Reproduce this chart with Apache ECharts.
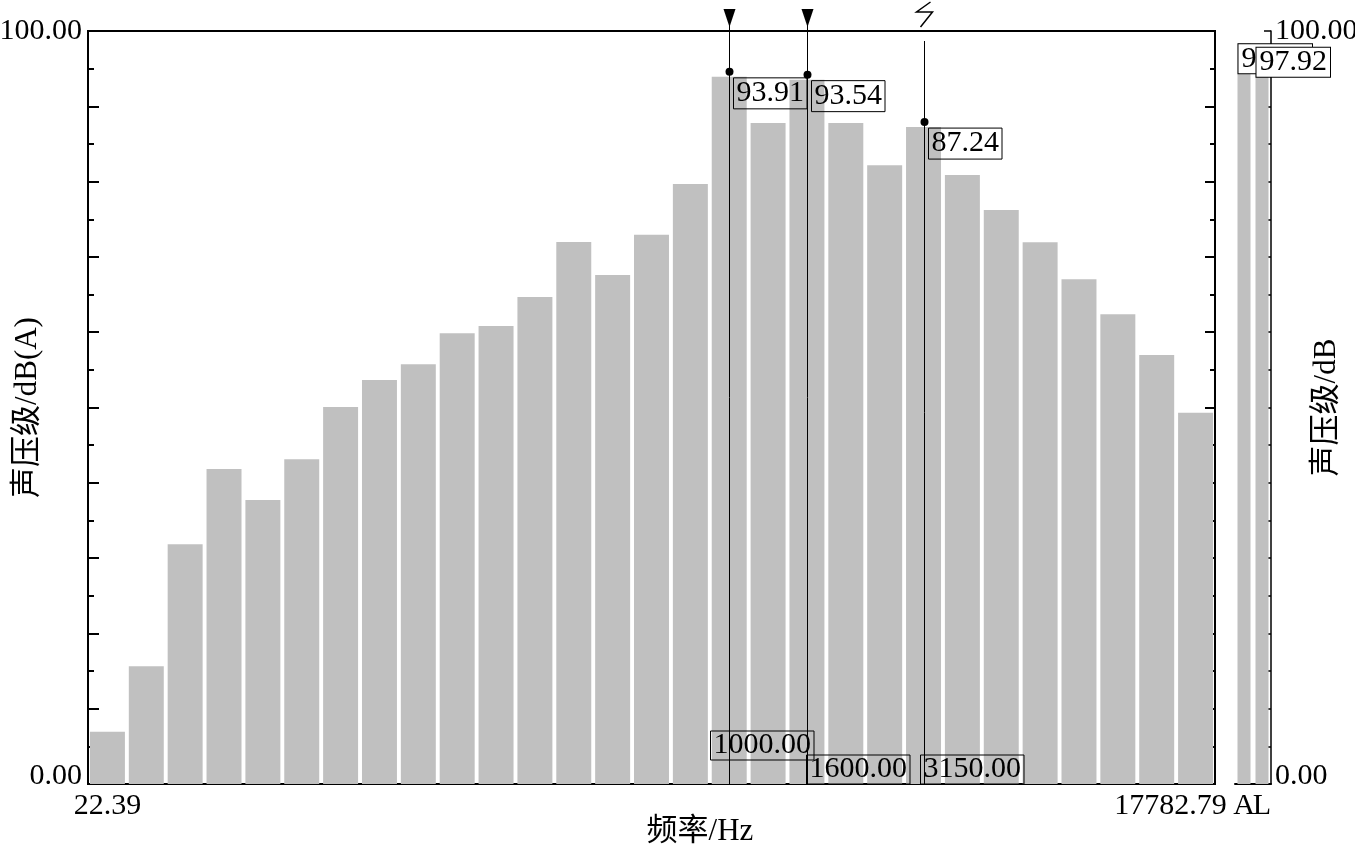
<!DOCTYPE html>
<html>
<head>
<meta charset="utf-8">
<script src="https://cdn.jsdelivr.net/npm/echarts@6/dist/echarts.min.js"></script>
<style>
  html, body { margin: 0; padding: 0; background: #fff; }
  #chart { width: 1355px; height: 850px; }
</style>
</head>
<body>
<div id="chart"></div>
<script>
// 1/3 octave bands (Hz) and A-weighted levels
var bands = ["25", "31.5", "40", "50", "63", "80", "100", "125", "160", "200", "250", "315", "400", "500", "630",
  "800", "1000", "1250", "1600", "2000", "2500", "3150", "4000", "5000", "6300", "8000", "10000", "12500", "16000"];
var levels = [6.95, 15.63, 31.83, 41.83, 37.72, 43.12, 50.07, 53.65, 55.74, 59.85, 60.82, 64.67, 71.98, 67.60, 72.95,
  79.68, 93.91, 87.78, 93.54, 87.78, 82.16, 87.24, 80.88, 76.23, 71.94, 67.02, 62.38, 56.97, 49.31];
// band edges shown under the first and last bar
var edgeLabels = ["22.39", "17782.79"];
// overall levels
var totalNames = ["A", "L"];
var totalLevels = [98.37, 97.92];
// cursors
var cursorBands = ["1000", "1600", "3150"];
var cursorFreqText = ["1000.00", "1600.00", "3150.00"];
var cursorKind = ["arrow", "arrow", "break"];

var SERIF = "'Liberation Serif', 'Noto Sans CJK SC', serif";
var FS = 30;
var font = FS + "px " + SERIF;
// bottom label placement per cursor (dx from line, stacked row)
var freqBoxDx = [-19, -1, -4];
var freqBoxRow = [1, 0, 0];

var chart = echarts.init(document.getElementById("chart"));

var cursorData = cursorBands.map(function (b, i) {
  var idx = bands.indexOf(b);
  return [idx, levels[idx], i];
});

function renderCursor(params, api) {
  var idx = api.value(0), val = api.value(1), ci = api.value(2);
  var p = api.coord([idx, val]);
  var top = api.coord([idx, 100])[1];
  var bot = api.coord([idx, 0])[1];
  var x = Math.round(p[0]) + 0.5;
  var kids = [];
  var arrow = cursorKind[ci] === "arrow";
  kids.push({
    type: "line",
    shape: { x1: x, y1: arrow ? top - 20 : top + 10, x2: x, y2: bot },
    style: { stroke: "#000", lineWidth: 1 }
  });
  if (arrow) {
    kids.push({
      type: "polygon",
      shape: { points: [[x - 6, top - 22], [x + 6, top - 22], [x, top - 4]] },
      style: { fill: "#000" }
    });
  } else {
    kids.push({
      type: "polyline",
      shape: { points: [[x + 6, top - 29], [x - 8, top - 19], [x + 8, top - 19], [x - 4, top - 4]] },
      style: { stroke: "#000", lineWidth: 1.5, fill: null }
    });
  }
  kids.push({
    type: "circle",
    shape: { cx: x, cy: p[1] - 5, r: 4 },
    style: { fill: "#000" }
  });
  kids.push({
    type: "text",
    x: x + 4,
    y: p[1] + 1,
    style: {
      text: val.toFixed(2), font: font, fill: "#000", align: "left", verticalAlign: "top",
      lineHeight: 29, padding: [1, 3, 1, 3], borderColor: "#000", borderWidth: 1
    }
  });
  kids.push({
    type: "text",
    x: x + freqBoxDx[ci],
    y: bot - 29 - freqBoxRow[ci] * 24,
    style: {
      text: cursorFreqText[ci], font: font, fill: "#000", align: "left", verticalAlign: "top",
      lineHeight: 27, padding: [1, 3, 1, 3], borderColor: "#000", borderWidth: 1
    }
  });
  return { type: "group", children: kids };
}

var minMaxLabel = function (v) {
  return (v === 0 || v === 100) ? v.toFixed(2) : "";
};

var option = {
  animation: false,
  backgroundColor: "#fff",
  textStyle: { fontFamily: SERIF },
  grid: [
    { left: 88, top: 31, width: 1127, height: 753, outerBoundsMode: "none", containLabel: false,
      show: true, borderColor: "#000", borderWidth: 2 },
    { left: 1235, top: 31, width: 36, height: 753, outerBoundsMode: "none", containLabel: false }
  ],
  xAxis: [
    {
      type: "category",
      gridIndex: 0,
      data: bands,
      name: "频率/Hz",
      nameLocation: "middle",
      nameGap: 32,
      nameMoveOverlap: false,
      nameTextStyle: { color: "#000", fontSize: 31, fontFamily: SERIF, padding: [0, 0, 0, 97] },
      axisLine: { lineStyle: { color: "#000", width: 2 } },
      axisTick: { show: true, inside: true, length: 6, alignWithLabel: true, interval: 0, lineStyle: { color: "#000" } },
      axisLabel: {
        interval: 0,
        margin: 7,
        color: "#000",
        fontSize: FS,
        fontFamily: SERIF,
        formatter: function (v, i) {
          if (i === 0) return edgeLabels[0];
          if (i === bands.length - 1) return "{r|" + edgeLabels[1] + "}";
          return "";
        },
        rich: { r: { fontSize: FS, fontFamily: SERIF, color: "#000", padding: [0, 50, 0, 0] } }
      },
      splitLine: { show: false }
    },
    {
      type: "category",
      gridIndex: 1,
      data: totalNames,
      axisLine: { lineStyle: { color: "#000", width: 2 } },
      axisTick: { show: false },
      axisLabel: { interval: 0, margin: 7, color: "#000", fontSize: FS, fontFamily: SERIF }
    }
  ],
  yAxis: [
    {
      type: "value",
      gridIndex: 0,
      min: 0, max: 100, interval: 10,
      position: "left",
      name: "声压级/dB(A)",
      nameLocation: "middle",
      nameRotate: 90,
      nameGap: 45,
      nameMoveOverlap: false,
      nameTextStyle: { color: "#000", fontSize: 31, fontFamily: SERIF },
      axisLine: { show: true, lineStyle: { color: "#000", width: 2 } },
      axisTick: { show: true, inside: true, length: 11, lineStyle: { color: "#000", width: 2 } },
      minorTick: { show: true, splitNumber: 2, length: 6, lineStyle: { color: "#000", width: 2 } },
      splitLine: { show: false },
      axisLabel: {
        color: "#000", fontSize: FS, fontFamily: SERIF, margin: 6, lineHeight: 16,
        formatter: minMaxLabel,
        verticalAlignMinLabel: "bottom",
        verticalAlignMaxLabel: "middle"
      }
    },
    {
      type: "value",
      gridIndex: 0,
      min: 0, max: 100, interval: 10,
      position: "right",
      axisLine: { show: true, lineStyle: { color: "#000", width: 2 } },
      axisTick: { show: true, inside: true, length: 10, lineStyle: { color: "#000", width: 2 } },
      minorTick: { show: true, splitNumber: 2, length: 5, lineStyle: { color: "#000", width: 2 } },
      splitLine: { show: false },
      axisLabel: { show: false }
    },
    {
      type: "value",
      gridIndex: 1,
      min: 0, max: 100, interval: 10,
      position: "right",
      name: "声压级/dB",
      nameLocation: "middle",
      nameRotate: 90,
      nameGap: 40,
      nameMoveOverlap: false,
      nameTextStyle: { color: "#000", fontSize: 31, fontFamily: SERIF },
      axisLine: { show: true, lineStyle: { color: "#000", width: 1.5 } },
      axisTick: { show: true, inside: true, length: 7, lineStyle: { color: "#000", width: 1.5 } },
      minorTick: { show: true, splitNumber: 2, length: 4, lineStyle: { color: "#000", width: 1.5 } },
      splitLine: { show: false },
      axisLabel: {
        color: "#000", fontSize: FS, fontFamily: SERIF, margin: 4, lineHeight: 16,
        formatter: minMaxLabel,
        verticalAlignMinLabel: "bottom",
        verticalAlignMaxLabel: "middle"
      }
    }
  ],
  series: [
    {
      type: "bar",
      xAxisIndex: 0,
      yAxisIndex: 0,
      data: levels,
      barCategoryGap: "10%",
      itemStyle: { color: "#c0c0c0" }
    },
    {
      type: "bar",
      xAxisIndex: 1,
      yAxisIndex: 2,
      data: totalLevels,
      barWidth: 13,
      itemStyle: { color: "#c0c0c0" },
      label: {
        show: true,
        position: "insideTopLeft",
        distance: 1,
        color: "#000",
        fontSize: FS,
        fontFamily: SERIF,
        lineHeight: 27,
        backgroundColor: "#fff",
        borderColor: "#000",
        borderWidth: 1,
        padding: [1, 3, 1, 3],
        formatter: function (p) { return p.value.toFixed(2); }
      }
    },
    {
      type: "custom",
      xAxisIndex: 0,
      yAxisIndex: 0,
      data: cursorData,
      renderItem: renderCursor,
      clip: false,
      z: 10,
      silent: true
    }
  ]
};

chart.setOption(option);
</script>
</body>
</html>
